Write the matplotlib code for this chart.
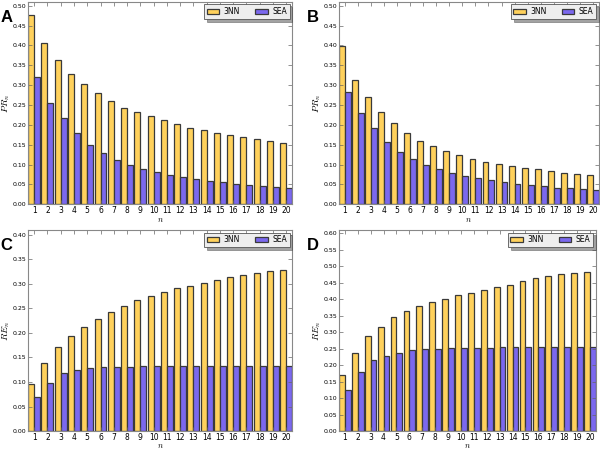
import numpy as np
import matplotlib
matplotlib.use("Agg")
import matplotlib.pyplot as plt

plt.rcParams['mathtext.fontset'] = 'cm'

n = np.arange(1, 21)

# panel A: PR_n
a_3nn = [0.477, 0.406, 0.363, 0.328, 0.302, 0.281, 0.260, 0.243, 0.232, 0.222,
         0.212, 0.202, 0.193, 0.187, 0.180, 0.174, 0.170, 0.165, 0.159, 0.154]
a_sea = [0.320, 0.254, 0.218, 0.179, 0.150, 0.129, 0.112, 0.100, 0.089, 0.081,
         0.074, 0.068, 0.063, 0.059, 0.055, 0.052, 0.048, 0.045, 0.043, 0.041]
# panel B: PR_n
b_3nn = [0.398, 0.312, 0.269, 0.232, 0.204, 0.179, 0.159, 0.146, 0.133, 0.123,
         0.115, 0.107, 0.102, 0.096, 0.092, 0.088, 0.084, 0.080, 0.077, 0.074]
b_sea = [0.282, 0.229, 0.192, 0.157, 0.132, 0.114, 0.100, 0.088, 0.080, 0.072,
         0.065, 0.060, 0.056, 0.052, 0.048, 0.046, 0.042, 0.041, 0.038, 0.037]
# panel C: RE_n
c_3nn = [0.095, 0.138, 0.171, 0.193, 0.212, 0.229, 0.243, 0.255, 0.267, 0.276,
         0.283, 0.291, 0.295, 0.302, 0.307, 0.314, 0.319, 0.323, 0.327, 0.329]
c_sea = [0.070, 0.097, 0.119, 0.125, 0.128, 0.130, 0.131, 0.131, 0.132, 0.132,
         0.132, 0.133, 0.133, 0.133, 0.133, 0.133, 0.133, 0.133, 0.133, 0.133]
# panel D: RE_n
d_3nn = [0.171, 0.238, 0.289, 0.316, 0.346, 0.365, 0.380, 0.392, 0.400, 0.412,
         0.420, 0.428, 0.438, 0.444, 0.455, 0.464, 0.470, 0.475, 0.479, 0.481]
d_sea = [0.125, 0.179, 0.216, 0.229, 0.238, 0.245, 0.249, 0.250, 0.252, 0.252,
         0.253, 0.253, 0.254, 0.254, 0.254, 0.254, 0.254, 0.254, 0.254, 0.254]

panels = [
    ("A", a_3nn, a_sea, r"$PR_n$", 0.51, [0.047, 0.545, 0.440, 0.451]),
    ("B", b_3nn, b_sea, r"$PR_n$", 0.51, [0.565, 0.545, 0.433, 0.451]),
    ("C", c_3nn, c_sea, r"$RE_n$", 0.41, [0.047, 0.040, 0.440, 0.448]),
    ("D", d_3nn, d_sea, r"$RE_n$", 0.61, [0.565, 0.040, 0.428, 0.448]),
]

gold = '#FFD15C'
violet = '#7B68EE'
w = 0.45

fig = plt.figure(figsize=(6.0, 4.49), dpi=100)

for letter, s1, s2, ylab, ytop, pos in panels:
    ax = fig.add_axes(pos)
    ax.bar(n - w, s1, w, align='edge', color=gold, edgecolor='#3a3a3a', linewidth=0.9, label='3NN')
    ax.bar(n, s2, w, align='edge', color=violet, edgecolor='#3a3a3a', linewidth=0.9, label='SEA')
    ax.set_xlim(1 - w, 20 + w)
    ax.set_ylim(0, ytop)
    yt = np.arange(0, ytop - 0.005, 0.05)
    ax.set_yticks(yt)
    ax.set_yticklabels(['%.2f' % v for v in yt], fontsize=4.5)
    ax.set_xticks(n)
    ax.tick_params(axis='x', labelsize=5.5, pad=1.5)
    ax.tick_params(axis='y', pad=1.5)
    ax.tick_params(direction='in', length=3, width=0.5, color='#666666',
                   top=True, right=True)
    for sp in ax.spines.values():
        sp.set_color('#888888')
        sp.set_linewidth(0.8)
    ax.set_ylabel(ylab, fontsize=7)
    # pixel-based placement of the y label (about 16 px left of the axis)
    ax.yaxis.set_label_coords(-16.0 / (pos[2] * 600), 0.5)
    ax.set_xlabel(r"$n$", fontsize=6, labelpad=-0.5)
    leg = ax.legend(loc='upper right', ncol=2, fontsize=5.5, fancybox=False, shadow=True,
                    handlelength=1.6, handleheight=0.6, handletextpad=0.6, borderpad=0.35,
                    columnspacing=2.0, borderaxespad=0.35)
    leg.get_frame().set_facecolor('#eeeeee')
    leg.get_frame().set_edgecolor('#555555')
    leg.get_frame().set_linewidth(0.6)
    fx = pos[0] - 0.047 + 0.001 if letter in "AC" else pos[0] - 0.054
    fy = pos[1] + pos[3] - 0.035
    fig.text(fx, fy, letter, fontsize=12, fontweight='bold', family='Liberation Sans',
             ha='left', va='center')

fig.savefig('out.png', dpi=100)
